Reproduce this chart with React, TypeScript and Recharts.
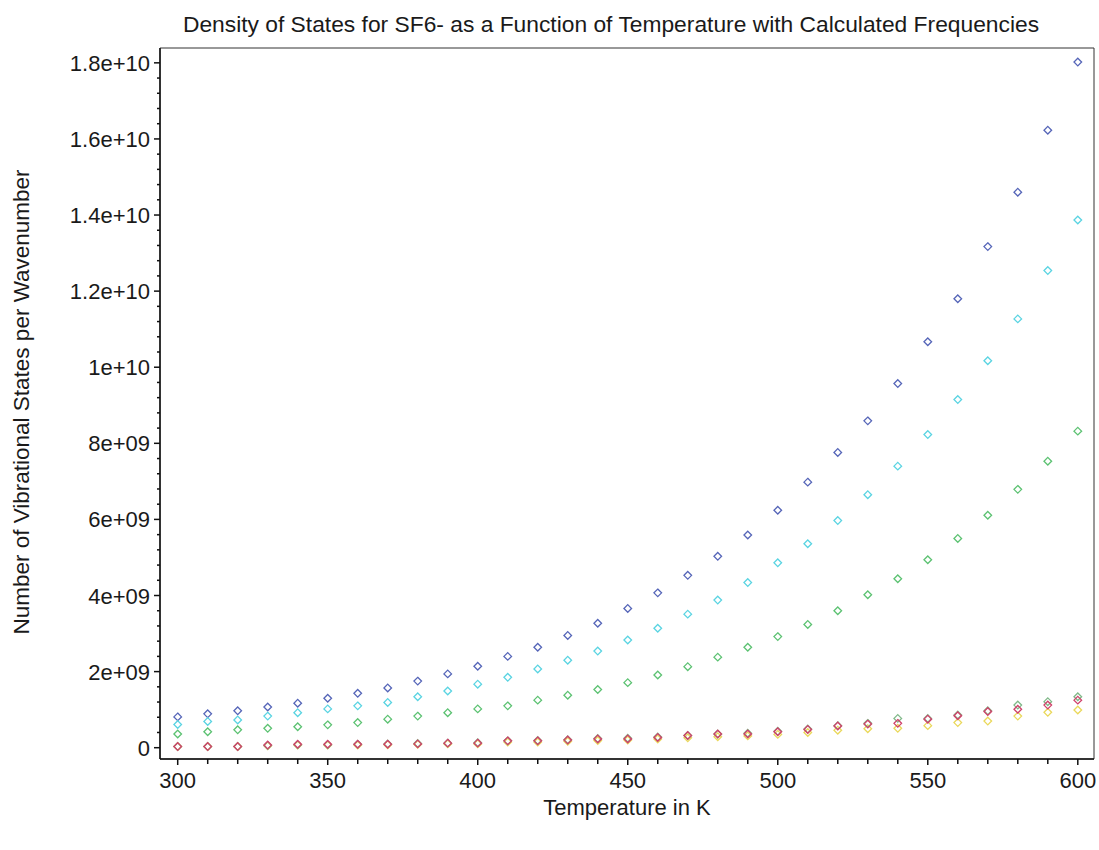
import { ScatterChart, Scatter, XAxis, YAxis, ReferenceArea } from "recharts";

// temperature in K
const temperatures = [
  300, 310, 320, 330, 340, 350, 360, 370, 380, 390, 400, 410, 420, 430, 440, 450,
  460, 470, 480, 490, 500, 510, 520, 530, 540, 550, 560, 570, 580, 590, 600,
];

// number of vibrational states per wavenumber, one list per frequency set
const blueStates = [
  0.81e9, 0.89e9, 0.97e9, 1.07e9, 1.17e9, 1.3e9, 1.43e9, 1.57e9, 1.75e9, 1.94e9,
  2.14e9, 2.4e9, 2.64e9, 2.95e9, 3.27e9, 3.66e9, 4.07e9, 4.53e9, 5.03e9, 5.59e9,
  6.24e9, 6.98e9, 7.76e9, 8.59e9, 9.57e9, 10.67e9, 11.8e9, 13.17e9, 14.6e9, 16.23e9,
  18.02e9,
];
const cyanStates = [
  0.61e9, 0.69e9, 0.73e9, 0.83e9, 0.92e9, 1.02e9, 1.1e9, 1.19e9, 1.34e9, 1.49e9,
  1.67e9, 1.85e9, 2.07e9, 2.3e9, 2.54e9, 2.83e9, 3.14e9, 3.51e9, 3.88e9, 4.34e9,
  4.86e9, 5.36e9, 5.97e9, 6.65e9, 7.4e9, 8.23e9, 9.15e9, 10.17e9, 11.27e9, 12.54e9,
  13.87e9,
];
const greenStates = [
  0.36e9, 0.42e9, 0.47e9, 0.51e9, 0.55e9, 0.6e9, 0.66e9, 0.75e9, 0.83e9, 0.92e9,
  1.02e9, 1.1e9, 1.25e9, 1.38e9, 1.53e9, 1.71e9, 1.91e9, 2.13e9, 2.38e9, 2.64e9,
  2.92e9, 3.24e9, 3.6e9, 4.02e9, 4.44e9, 4.94e9, 5.5e9, 6.11e9, 6.79e9, 7.53e9,
  8.32e9,
];
const yellowStates = [
  0.03e9, 0.03e9, 0.03e9, 0.05e9, 0.07e9, 0.07e9, 0.07e9, 0.08e9, 0.09e9, 0.1e9,
  0.1e9, 0.15e9, 0.15e9, 0.17e9, 0.19e9, 0.2e9, 0.23e9, 0.26e9, 0.29e9, 0.31e9,
  0.35e9, 0.4e9, 0.46e9, 0.5e9, 0.51e9, 0.58e9, 0.66e9, 0.7e9, 0.83e9, 0.93e9,
  0.99e9,
];
const oliveStates = [
  0.03e9, 0.03e9, 0.03e9, 0.06e9, 0.08e9, 0.08e9, 0.09e9, 0.1e9, 0.11e9, 0.12e9,
  0.13e9, 0.18e9, 0.19e9, 0.21e9, 0.24e9, 0.25e9, 0.28e9, 0.32e9, 0.36e9, 0.38e9,
  0.43e9, 0.49e9, 0.58e9, 0.64e9, 0.77e9, 0.77e9, 0.86e9, 0.97e9, 1.12e9, 1.21e9,
  1.34e9,
];
const redStates = [
  0.03e9, 0.03e9, 0.03e9, 0.07e9, 0.09e9, 0.09e9, 0.09e9, 0.09e9, 0.1e9, 0.12e9,
  0.12e9, 0.18e9, 0.18e9, 0.2e9, 0.23e9, 0.23e9, 0.27e9, 0.32e9, 0.36e9, 0.36e9,
  0.42e9, 0.48e9, 0.57e9, 0.62e9, 0.64e9, 0.75e9, 0.84e9, 0.95e9, 1.01e9, 1.12e9,
  1.25e9,
];

const xMajorTicks = [300, 350, 400, 450, 500, 550, 600];
const xTickLabels = ["300", "350", "400", "450", "500", "550", "600"];
const yMajorTicks = [0, 2e9, 4e9, 6e9, 8e9, 1e10, 1.2e10, 1.4e10, 1.6e10, 1.8e10];
const yTickLabels = [
  "0", "2e+09", "4e+09", "6e+09", "8e+09", "1e+10", "1.2e+10", "1.4e+10", "1.6e+10", "1.8e+10",
];

const FONT = '"Liberation Sans", Arial, sans-serif';
const TEXT = "#1a1a1a";

// minor ticks every 4e8 between the labelled ones
const yTicks = Array.from({ length: 46 }, (_, i) => i * 4e8);

const toRows = (values: number[]) =>
  values.map((v, i) => ({ t: temperatures[i], v }));

const series = [
  { name: "blue", color: "#5565b8", values: blueStates },
  { name: "cyan", color: "#5ad4e2", values: cyanStates },
  { name: "green", color: "#5cc272", values: greenStates },
  { name: "yellow", color: "#ead85a", values: yellowStates },
  { name: "olive", color: "#7fb888", values: oliveStates },
  { name: "red", color: "#d0406a", values: redStates },
];

const diamond = (color: string) => (props: any) => {
  const { cx, cy } = props;
  const r = 3.8;
  return (
    <path
      d={`M${cx},${cy - r}L${cx + r},${cy}L${cx},${cy + r}L${cx - r},${cy}Z`}
      fill="none"
      stroke={color}
      strokeWidth={1.3}
    />
  );
};

const XTick = ({ x, y, payload }: any) => {
  const i = xMajorTicks.indexOf(payload.value);
  return (
    <g>
      <line x1={x} y1={y} x2={x} y2={y + (i >= 0 ? 6 : 5)} stroke="#111" strokeWidth={1.5} />
      {i >= 0 && (
        <text x={x} y={y + 29} textAnchor="middle" fill={TEXT} fontSize={22} fontFamily={FONT}>
          {xTickLabels[i]}
        </text>
      )}
    </g>
  );
};

const YTick = ({ x, y, payload }: any) => {
  const i = yMajorTicks.findIndex((m) => Math.abs(m - payload.value) < 1);
  return (
    <g>
      <line x1={x - (i >= 0 ? 6 : 3)} y1={y} x2={x} y2={y} stroke="#111" strokeWidth={1.5} />
      {i >= 0 && (
        <text x={x - 10} y={y + 8} textAnchor="end" fill={TEXT} fontSize={22} fontFamily={FONT}>
          {yTickLabels[i]}
        </text>
      )}
    </g>
  );
};

const App = () => {
  return (
    <div style={{ position: "absolute", left: 0, top: 0, width: 1099, height: 850, background: "#fff", fontFamily: FONT }}>
      <ScatterChart width={1099} height={850} margin={{ top: 48, right: 5, left: 0, bottom: 0 }}>
        <XAxis
          type="number"
          dataKey="t"
          domain={[294.1, 605.4]}
          allowDataOverflow
          ticks={temperatures}
          interval={0}
          tick={<XTick />}
          tickLine={false}
          tickSize={0}
          tickMargin={0}
          height={91}
          axisLine={{ stroke: "#111", strokeWidth: 1.5 }}
        />
        <YAxis
          type="number"
          dataKey="v"
          domain={[-2.97e8, 1.839e10]}
          allowDataOverflow
          ticks={yTicks}
          interval={0}
          tick={<YTick />}
          tickLine={false}
          tickSize={0}
          tickMargin={0}
          width={160}
          axisLine={{ stroke: "#111", strokeWidth: 1.5 }}
        />
        <ReferenceArea
          x1={294.1}
          x2={605.4}
          y1={-2.97e8}
          y2={1.839e10}
          fill="none"
          stroke="#333"
          strokeWidth={1}
          fillOpacity={0}
        />
        {series.map((s) => (
          <Scatter
            key={s.name}
            name={s.name}
            data={toRows(s.values)}
            shape={diamond(s.color)}
            isAnimationActive={false}
          />
        ))}
      </ScatterChart>
      <div
        style={{
          position: "absolute",
          left: 611,
          top: 24,
          transform: "translate(-50%, -50%)",
          whiteSpace: "nowrap",
          fontSize: 22.8,
          lineHeight: "23px",
          color: TEXT,
        }}
      >
        Density of States for SF6- as a Function of Temperature with Calculated Frequencies
      </div>
      <div
        style={{
          position: "absolute",
          left: 627,
          top: 808,
          transform: "translate(-50%, -50%)",
          whiteSpace: "nowrap",
          fontSize: 22,
          lineHeight: "22px",
          color: TEXT,
        }}
      >
        Temperature in K
      </div>
      <div
        style={{
          position: "absolute",
          left: 22,
          top: 402,
          transform: "translate(-50%, -50%) rotate(-90deg)",
          whiteSpace: "nowrap",
          fontSize: 22.5,
          lineHeight: "22px",
          color: TEXT,
        }}
      >
        Number of Vibrational States per Wavenumber
      </div>
    </div>
  );
};

export default App;
